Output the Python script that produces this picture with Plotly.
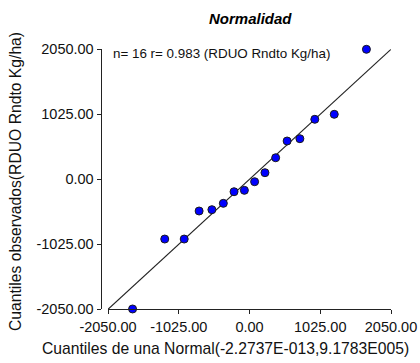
import plotly.graph_objects as go

# Theoretical normal quantiles (x) and observed quantiles (y)
theoretical = [-1694, -1228, -946, -730, -545, -379, -224, -74,
               74, 224, 379, 545, 730, 946, 1228, 1694]
observed = [-2045, -942, -942, -500, -479, -379, -196, -174,
            -38, 104, 340, 604, 640, 946, 1025, 2050]
ref_line_x = [-2050, 2050]
ref_line_y = [-2050, 2050]
tick_vals = [-2050, -1025, 0, 1025, 2050]
tick_text = ["-2050.00", "-1025.00", "0.00", "1025.00", "2050.00"]

W, H = 420, 363
FONT = "Liberation Sans, Arial, sans-serif"

fig = go.Figure()
fig.add_trace(go.Scatter(x=ref_line_x, y=ref_line_y, mode="lines",
                         line=dict(color="#222222", width=1.1),
                         hoverinfo="skip", showlegend=False))
fig.add_trace(go.Scatter(x=theoretical, y=observed, mode="markers",
                         marker=dict(color="#0000ff", size=8,
                                     line=dict(color="#1a1a1a", width=1)),
                         cliponaxis=False, showlegend=False))

xd = [108 / W, 391 / W]
yd = [1 - 309.3 / H, 1 - 49.3 / H]

fig.update_layout(
    width=W, height=H,
    margin=dict(l=0, r=0, t=0, b=0),
    paper_bgcolor="white", plot_bgcolor="white",
    font=dict(family=FONT, color="#111111"),
    xaxis=dict(domain=xd, range=[-2050, 2050], showgrid=False, zeroline=False,
               showline=True, linecolor="#222222", linewidth=1.2,
               ticks="outside", ticklen=4, tickcolor="#222222", tickwidth=1.2,
               tickvals=tick_vals, ticktext=tick_text,
               tickfont=dict(size=14.5, family=FONT, color="#111111"),
               automargin=False),
    yaxis=dict(domain=yd, range=[-2050, 2050], showgrid=False, zeroline=False,
               anchor="free", position=100.7 / W,
               showline=True, linecolor="#222222", linewidth=1.2,
               ticks="outside", ticklen=4, tickcolor="#222222", tickwidth=1.2,
               tickvals=tick_vals, ticktext=tick_text,
               tickfont=dict(size=14.5, family=FONT, color="#111111"),
               automargin=False),
    annotations=[
        dict(text="<b><i>Normalidad</i></b>", xref="paper", yref="paper",
             x=250 / W, y=1 - 18 / H, xanchor="center", yanchor="middle",
             showarrow=False, font=dict(size=15, family=FONT, color="#000000")),
        dict(text="n= 16 r= 0.983 (RDUO Rndto Kg/ha)", xref="paper", yref="paper",
             x=111 / W, y=1 - 53 / H, xanchor="left", yanchor="middle",
             showarrow=False, font=dict(size=13.4, family=FONT, color="#111111")),
        dict(text="Cuantiles de una Normal(-2.2737E-013,9.1783E005)", xref="paper",
             yref="paper", x=225 / W, y=1 - 348 / H, xanchor="center",
             yanchor="middle", showarrow=False,
             font=dict(size=15.7, family=FONT, color="#111111")),
        dict(text="Cuantiles observados(RDUO Rndto Kg/ha)", xref="paper",
             yref="paper", x=16 / W, y=1 - 182 / H, xanchor="center",
             yanchor="middle", textangle=-90, showarrow=False,
             font=dict(size=15.7, family=FONT, color="#111111")),
    ],
)

fig.write_html("out.html")
